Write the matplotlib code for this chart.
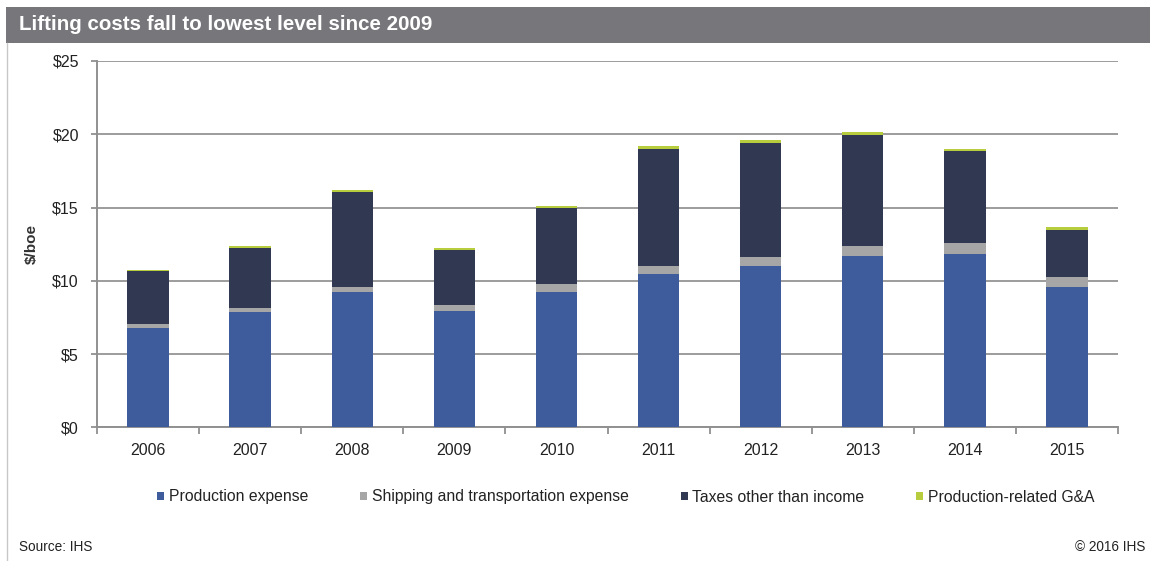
import matplotlib
matplotlib.use("Agg")
import matplotlib.pyplot as plt
from matplotlib.patches import Rectangle
from matplotlib.lines import Line2D
import numpy as np

plt.rcParams['font.family'] = ['Liberation Sans', 'DejaVu Sans']

years = ['2006', '2007', '2008', '2009', '2010', '2011', '2012', '2013', '2014', '2015']
production = [6.75, 7.85, 9.25, 7.95, 9.25, 10.45, 11.0, 11.7, 11.85, 9.6]
shipping = [0.27, 0.27, 0.35, 0.43, 0.52, 0.55, 0.63, 0.65, 0.7, 0.68]
taxes = [3.63, 4.13, 6.47, 3.69, 5.2, 8.02, 7.8, 7.63, 6.28, 3.16]
ga = [0.08, 0.14, 0.14, 0.15, 0.13, 0.2, 0.15, 0.2, 0.18, 0.2]
series_names = ['Production expense', 'Shipping and transportation expense',
                'Taxes other than income', 'Production-related G&A']
colors = ['#3E5C9B', '#A6A6A6', '#313851', '#B7CD3D']
yticks = [0, 5, 10, 15, 20, 25]

W, H = 1150, 561
fig = plt.figure(figsize=(W / 100, H / 100), dpi=100)
fig.patch.set_facecolor('white')

# title bar
fig.patches.append(Rectangle((6 / W, 1 - 43 / H), 1 - 6 / W, 36 / H,
                             transform=fig.transFigure, facecolor='#77767B',
                             edgecolor='none', zorder=0))
fig.text(19 / W, 1 - 25 / H, 'Lifting costs fall to lowest level since 2009',
         color='white', fontsize=14.8, fontweight='bold', va='center', ha='left')
# left border line
fig.lines.append(Line2D([6.5 / W, 6.5 / W], [0, 1 - 43 / H], transform=fig.transFigure,
                        color='#C8C8C8', lw=1))

ax = fig.add_axes([97 / W, 1 - 427.3 / H, (1118 - 97) / W, (427.3 - 61) / H])
x = np.arange(len(years))
bottom = np.zeros(len(years))
for vals, c, name in zip([production, shipping, taxes, ga], colors, series_names):
    ax.bar(x, vals, width=0.405, bottom=bottom, color=c, label=name, zorder=3,
           edgecolor='none')
    bottom = bottom + np.array(vals)

ax.set_xlim(-0.5, len(years) - 0.5)
ax.set_ylim(0, 25)
ax.set_yticks(yticks)
ax.set_yticklabels([f'${v}' for v in yticks], fontsize=11.5, color='#222222')
ax.yaxis.grid(True, color='#9C9C9C', lw=1.4, zorder=0)
ax.set_axisbelow(True)

ax.set_xticks(np.arange(-0.5, len(years), 1.0))
ax.set_xticklabels([])
ax.set_xticks(x, minor=True)
ax.set_xticklabels(years, minor=True, fontsize=11.5, color='#222222')
ax.tick_params(axis='x', which='major', length=5, color='#909090', width=1.3, direction='out')
ax.tick_params(axis='x', which='minor', length=0, pad=11)
ax.tick_params(axis='y', length=4, color='#909090', width=1.3, pad=9)

for s in ['top', 'right']:
    ax.spines[s].set_visible(False)
for s in ['left', 'bottom']:
    ax.spines[s].set_color('#909090')
    ax.spines[s].set_linewidth(1.4)

ax.set_ylabel('$/boe', fontsize=11, fontweight='bold', color='#333333', labelpad=10)

leg = fig.legend(loc='center', bbox_to_anchor=(626 / W, 1 - 497 / H), ncol=4,
                 frameon=False, fontsize=11.3, handlelength=0.45, handleheight=0.45,
                 handletextpad=0.3, columnspacing=3.3, borderaxespad=0, borderpad=0)
for t in leg.get_texts():
    t.set_color('#222222')

fig.text(19 / W, 1 - 547 / H, 'Source: IHS', fontsize=9.8, color='#222222', va='center')
fig.text(1145 / W, 1 - 547 / H, '© 2016 IHS', fontsize=9.8, color='#222222',
         va='center', ha='right')

fig.savefig('out.png', dpi=100, facecolor='white')
